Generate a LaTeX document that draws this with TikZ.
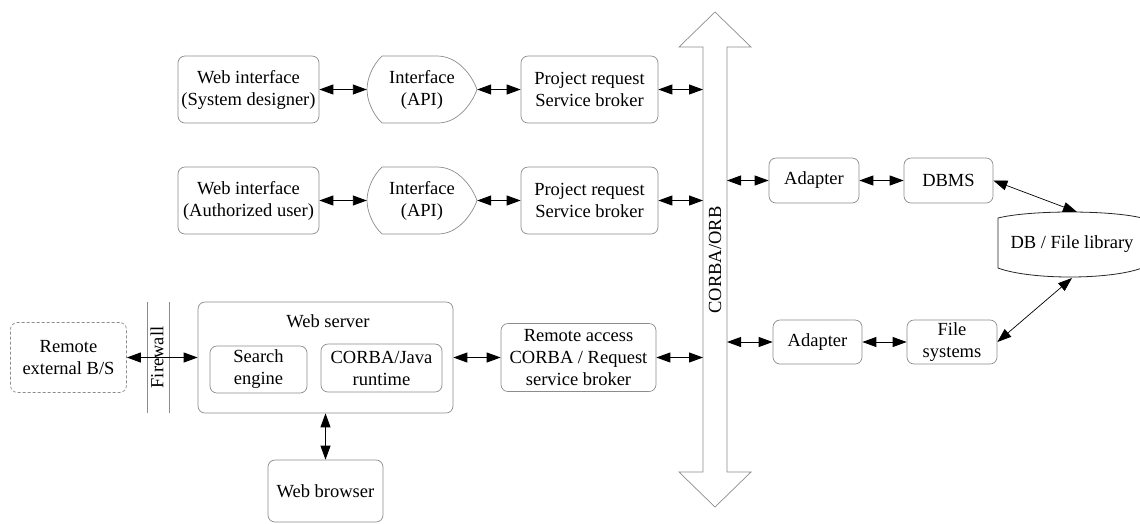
\documentclass[tikz,border=0pt]{standalone}
\usepackage{fontspec}
\setmainfont{Liberation Serif}
\usetikzlibrary{arrows.meta}

\newcommand\apioutline[1]{%
  \draw[edge, fill=white, shift={(#1.center)}]
    (-40,-33.5) -- (15,-33.5)
    .. controls (36,-33.5) and (50,-14) .. (55,0)
    .. controls (50,14) and (36,33.5) .. (16,33.5)
    -- (-40,33.5)
    .. controls (-50,24) and (-55,10) .. (-55,0)
    .. controls (-55,-10) and (-50,-24) .. (-40,-33.5) -- cycle;}

\begin{document}
\begin{tikzpicture}[x=1pt, y=-1pt,
  font=\fontsize{18.5}{22}\selectfont,
  edge/.style={draw=black!45, line width=0.7pt},
  box/.style={edge, rounded corners=7pt, align=center, inner sep=0pt, text=black},
  plain/.style={align=center, inner sep=0pt, text=black},
  dbl/.style={{Triangle[length=14pt,width=10pt]}-{Triangle[length=14pt,width=10pt]}, line width=0.9pt, black},
]
\useasboundingbox (0,0) rectangle (1140,523);

% ORB bus: a broad two-headed arrow
\draw[edge] (715,12) -- (751,47) -- (727,47) -- (727,472) -- (751,472)
  -- (715,507) -- (679,472) -- (703,472) -- (703,47) -- (679,47) -- cycle;
\node[plain, rotate=90] (bus) at (715,260) {CORBA/ORB};
\coordinate (busW) at (703,0);
\coordinate (busE) at (727,0);

% first row
\node[box, minimum width=141pt, minimum height=67pt] (wi1) at (248.5,89.5) {Web interface\\(System designer)};
\node[plain, minimum width=110pt, minimum height=67pt] (api1) at (422,89.5) {};
\apioutline{api1}
\node[plain] at (api1.center) {Interface\\(API)};
\node[box, minimum width=137pt, minimum height=67pt] (pr1) at (589.5,89.5) {Project request\\Service broker};

% second row
\node[box, minimum width=141pt, minimum height=67pt] (wi2) at (248.5,200.5) {Web interface\\(Authorized user)};
\node[plain, minimum width=110pt, minimum height=67pt] (api2) at (422,200.5) {};
\apioutline{api2}
\node[plain] at (api2.center) {Interface\\(API)};
\node[box, minimum width=137pt, minimum height=67pt] (pr2) at (589.5,200.5) {Project request\\Service broker};

\draw[dbl] (wi1.east) -- (api1.west);
\draw[dbl] (api1.east) -- (pr1.west);
\draw[dbl] (pr1.east) -- (pr1.east -| busW);
\draw[dbl] (wi2.east) -- (api2.west);
\draw[dbl] (api2.east) -- (pr2.west);
\draw[dbl] (pr2.east) -- (pr2.east -| busW);

% remote access, firewall and web server
\node[box, dash pattern=on 3pt off 2pt, minimum width=116pt, minimum height=70pt] (rem) at (68.5,357.5) {Remote\\external B/S};
\draw[edge] (147,302) -- (147,413);
\draw[edge] (169,302) -- (169,413);
\node[plain, rotate=90] (fw) at (157,357.5) {Firewall};

\node[box, minimum width=255pt, minimum height=111pt] (ws) at (325.5,357.5) {};
\node[plain] (wst) at (328,321) {Web server};
\node[box, minimum width=97pt, minimum height=47pt] (se) at (258.5,369.5) {Search\\engine};
\node[box, minimum width=121pt, minimum height=48pt] (cj) at (381.5,368) {CORBA/Java\\runtime};

\node[box, minimum width=155pt, minimum height=68pt] (ra) at (578.5,357.5) {Remote access\\CORBA / Request\\service broker};
\node[box, minimum width=115pt, minimum height=62pt] (wb) at (325.5,491) {Web browser};

\draw[dbl] (rem.east) -- (ws.west);
\draw[dbl] (ws.east) -- (ra.west);
\draw[dbl] (ra.east) -- (ra.east -| busW);
\draw[dbl] (ws.south) -- (wb.north);

% data side
\node[box, minimum width=90pt, minimum height=45pt] (ad1) at (814,180.5) {Adapter};
\node[box, minimum width=89pt, minimum height=45pt] (dbms) at (948.5,180.5) {DBMS};
\node[box, minimum width=89pt, minimum height=44pt] (ad2) at (817.5,342) {Adapter};
\node[box, minimum width=90pt, minimum height=44pt] (fs) at (952,342) {File\\systems};

\node[plain, minimum width=142pt, minimum height=60pt] (db) at (1069,243) {};
\draw[black!85, line width=0.8pt, fill=white]
  (998,218) .. controls (1030,210) and (1110,210) .. (1142,218)
  -- (1142,268) .. controls (1110,280) and (1030,280) .. (998,268) -- cycle;
\node[plain] (dbt) at (1072,244) {DB / File library};
\coordinate (dbtop) at (1077,212);
\coordinate (dbbot) at (1072,278);

\draw[dbl] (ad1.west -| busE) -- (ad1.west);
\draw[dbl] (ad1.east) -- (dbms.west);
\draw[dbl] (ad2.west -| busE) -- (ad2.west);
\draw[dbl] (ad2.east) -- (fs.west);
\draw[dbl, line width=0.7pt] (dbms.east) -- (dbtop);
\draw[dbl, line width=0.7pt] (fs.east) -- (dbbot);
\end{tikzpicture}
\end{document}
